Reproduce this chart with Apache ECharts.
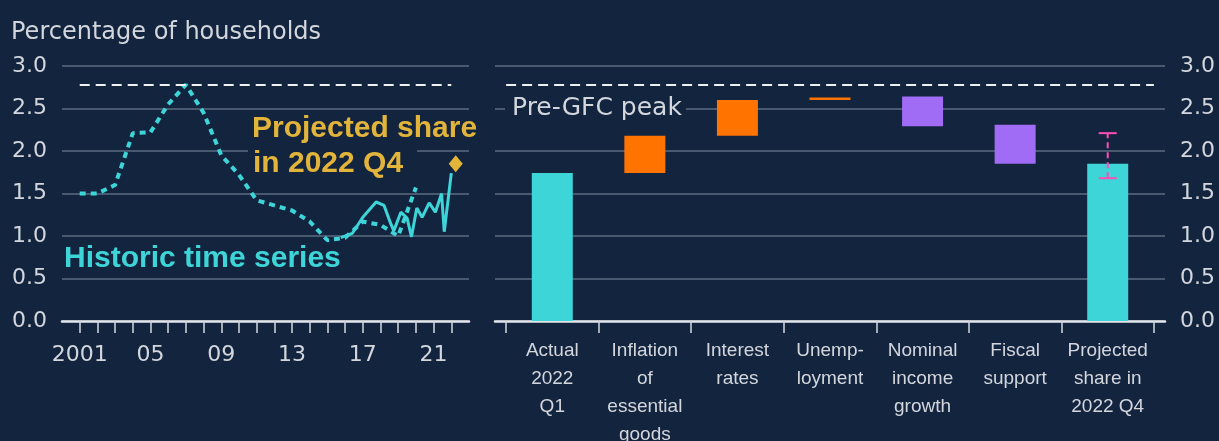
<!DOCTYPE html>
<html>
<head>
<meta charset="utf-8">
<script src="https://cdn.jsdelivr.net/npm/echarts@6/dist/echarts.min.js"></script>
<style>
    html, body { margin: 0; padding: 0; background: #13243f; }
    #chart { width: 1219px; height: 441px; }
</style>
</head>
<body>
<div id="chart"></div>
<script>
    // left panel: historic share of households (annual, dotted)
    const historicYears = [2001, 2002, 2003, 2004, 2005, 2006, 2007, 2008, 2009, 2010,
        2011, 2012, 2013, 2014, 2015, 2016, 2017, 2018, 2019, 2020];
    const historicShare = [1.50, 1.50, 1.60, 2.21, 2.22, 2.55, 2.78, 2.45, 1.95, 1.72,
        1.42, 1.36, 1.30, 1.17, 0.95, 0.98, 1.17, 1.13, 1.00, 1.57];
    // left panel: recent share (solid)
    const recentDates = [2015.75, 2016.4, 2017.0, 2017.75, 2018.2, 2018.55, 2018.75, 2019.15, 2019.5,
        2019.75, 2020.05, 2020.35, 2020.75, 2021.1, 2021.45, 2021.6, 2022.0];
    const recentShare = [0.98, 1.03, 1.22, 1.40, 1.36, 1.16, 1.06, 1.28, 1.21,
        0.99, 1.33, 1.22, 1.39, 1.28, 1.50, 1.05, 1.74];
    const projectedPoint = [2022.25, 1.85];
    const preGfcPeak = 2.78;
    const tickYears = [2001, 2002, 2003, 2004, 2005, 2006, 2007, 2008, 2009, 2010, 2011,
        2012, 2013, 2014, 2015, 2016, 2017, 2018, 2019, 2020, 2021, 2022];
    const labelYears = [2001, 2005, 2009, 2013, 2017, 2021];

    // right panel: waterfall
    const stepNames = ['Actual\n2022\nQ1', 'Inflation\nof\nessential\ngoods', 'Interest\nrates',
        'Unemp-\nloyment', 'Nominal\nincome\ngrowth', 'Fiscal\nsupport', 'Projected\nshare in\n2022 Q4'];
    const stepKind = ['total', 'up', 'up', 'up', 'down', 'down', 'total'];
    const stepLow = [0, 1.74, 2.18, 2.60, 2.29, 1.85, 0];
    const stepHigh = [1.74, 2.18, 2.60, 2.63, 2.64, 2.31, 1.85];
    const projectedRange = [1.68, 2.21];
    const yTicks = [0, 0.5, 1.0, 1.5, 2.0, 2.5, 3.0];

    const bg = '#13243f';
    const cyan = '#3dd5d8';
    const gold = '#e2b53a';
    const pink = '#ff4fb5';
    const gridCol = '#5d6b80';
    const txt = '#d3d7dd';
    const kindColor = {total: cyan, up: '#ff7300', down: '#a06cf5'};

    let myChart = echarts.init(document.getElementById('chart'));

    function yAxisFor(grid, pos, show) {
        return {
            type: 'value', gridIndex: grid, position: pos,
            min: yTicks[0], max: yTicks[yTicks.length - 1], interval: 0.5,
            show: show,
            axisLine: {show: false},
            axisTick: {show: false},
            splitLine: {show: show, lineStyle: {color: gridCol, width: 1.5}},
            axisLabel: {
                color: txt, fontSize: 22, fontFamily: 'DejaVu Sans', margin: 15,
                formatter: function (v) { return v.toFixed(1); }
            }
        };
    }

    myChart.setOption({
        animation: false,
        backgroundColor: bg,
        title: {
            text: 'Percentage of households',
            left: 11, top: 21, padding: 0,
            textStyle: {color: txt, fontSize: 24, fontWeight: 'normal', fontFamily: 'DejaVu Sans'}
        },
        grid: [
            {left: 62, right: 750, top: 66, bottom: 120, outerBoundsMode: 'none'},
            {left: 495, right: 54, top: 66, bottom: 120, outerBoundsMode: 'none'},
            {left: 506, right: 65, top: 66, bottom: 120, outerBoundsMode: 'none'}
        ],
        xAxis: [
            {
                type: 'value', gridIndex: 0, min: 2000, max: 2023,
                axisLine: {lineStyle: {color: '#e3e6ea', width: 2.5}},
                axisTick: {customValues: tickYears, length: 12, lineStyle: {color: txt, width: 1.5}},
                axisLabel: {
                    customValues: labelYears, color: txt, fontSize: 22, fontFamily: 'DejaVu Sans', margin: 23,
                    formatter: function (v) { return v === 2001 ? '2001' : String(v).slice(2); }
                },
                splitLine: {show: false}
            },
            {
                type: 'value', gridIndex: 1, min: -0.12, max: 7.12,
                axisLine: {lineStyle: {color: '#e3e6ea', width: 2.5}},
                axisTick: {show: false},
                axisLabel: {show: false},
                splitLine: {show: false}
            },
            {
                type: 'category', gridIndex: 2, data: stepNames,
                axisLine: {show: false},
                axisTick: {show: true, length: 12, lineStyle: {color: txt, width: 1.5}},
                axisLabel: {
                    interval: 0, color: txt, fontSize: 19, lineHeight: 28, margin: 16,
                    fontFamily: 'Liberation Sans'
                }
            }
        ],
        yAxis: [
            yAxisFor(0, 'left', true),
            yAxisFor(1, 'right', true),
            yAxisFor(2, 'right', false)
        ],
        graphic: [
            {
                type: 'text', left: 252, top: 114, z: 100,
                style: {text: 'Projected share', fill: gold, font: 'bold 30px "Liberation Sans"'}
            },
            {
                type: 'text', left: 248, top: 149, z: 100,
                style: {
                    text: 'in 2022 Q4', fill: gold, font: 'bold 30px "Liberation Sans"',
                    backgroundColor: bg, padding: [0, 14, 0, 5]
                }
            },
            {
                type: 'text', left: 64, top: 244, z: 100,
                style: {text: 'Historic time series', fill: cyan, font: 'bold 30px "Liberation Sans"'}
            },
            {
                type: 'text', left: 505, top: 95, z: 100,
                style: {
                    text: 'Pre-GFC peak', fill: txt, font: '25px "DejaVu Sans"',
                    backgroundColor: bg, padding: [1, 4, 1, 7]
                }
            }
        ],
        series: [
            {
                type: 'line', xAxisIndex: 0, yAxisIndex: 0,
                data: historicYears.map(function (y, i) { return [y, historicShare[i]]; }),
                showSymbol: false,
                lineStyle: {color: cyan, width: 4, type: [6, 5]},
                markLine: {
                    silent: true, symbol: 'none', label: {show: false},
                    lineStyle: {color: '#eef0f2', width: 2, type: [10, 6]},
                    data: [[{coord: [tickYears[0], preGfcPeak]}, {coord: [tickYears[tickYears.length - 1], preGfcPeak]}]]
                }
            },
            {
                type: 'line', xAxisIndex: 0, yAxisIndex: 0,
                data: recentDates.map(function (d, i) { return [d, recentShare[i]]; }),
                showSymbol: false,
                lineStyle: {color: cyan, width: 3}
            },
            {
                type: 'scatter', xAxisIndex: 0, yAxisIndex: 0,
                data: [projectedPoint],
                symbol: 'diamond', symbolSize: [14, 17],
                itemStyle: {color: gold, opacity: 1}
            },
            {
                type: 'line', xAxisIndex: 1, yAxisIndex: 1, data: [],
                markLine: {
                    silent: true, symbol: 'none', label: {show: false},
                    lineStyle: {color: '#eef0f2', width: 2, type: [10, 6]},
                    data: [[{coord: [0, preGfcPeak]}, {coord: [stepNames.length, preGfcPeak]}]]
                }
            },
            {
                type: 'bar', xAxisIndex: 2, yAxisIndex: 2, stack: 'waterfall', silent: true,
                barWidth: 41,
                itemStyle: {color: 'rgba(0,0,0,0)'},
                data: stepLow
            },
            {
                type: 'bar', xAxisIndex: 2, yAxisIndex: 2, stack: 'waterfall',
                barWidth: 41,
                data: stepHigh.map(function (h, i) {
                    return {value: +(h - stepLow[i]).toFixed(2), itemStyle: {color: kindColor[stepKind[i]]}};
                })
            },
            {
                type: 'custom', xAxisIndex: 2, yAxisIndex: 2, z: 5,
                data: [[stepNames.length - 1, projectedRange[0], projectedRange[1]]],
                encode: {x: 0, y: [1, 2]},
                renderItem: function (params, api) {
                    let x = api.value(0);
                    let lo = api.coord([x, api.value(1)]);
                    let hi = api.coord([x, api.value(2)]);
                    let half = 9;
                    return {
                        type: 'group',
                        children: [
                            {type: 'line', shape: {x1: lo[0], y1: lo[1], x2: hi[0], y2: hi[1]},
                                style: {stroke: pink, lineWidth: 2, lineDash: [6, 4]}},
                            {type: 'line', shape: {x1: lo[0] - half, y1: lo[1], x2: lo[0] + half, y2: lo[1]},
                                style: {stroke: pink, lineWidth: 2}},
                            {type: 'line', shape: {x1: hi[0] - half, y1: hi[1], x2: hi[0] + half, y2: hi[1]},
                                style: {stroke: pink, lineWidth: 2}}
                        ]
                    };
                }
            }
        ]
    });
</script>
</body>
</html>
